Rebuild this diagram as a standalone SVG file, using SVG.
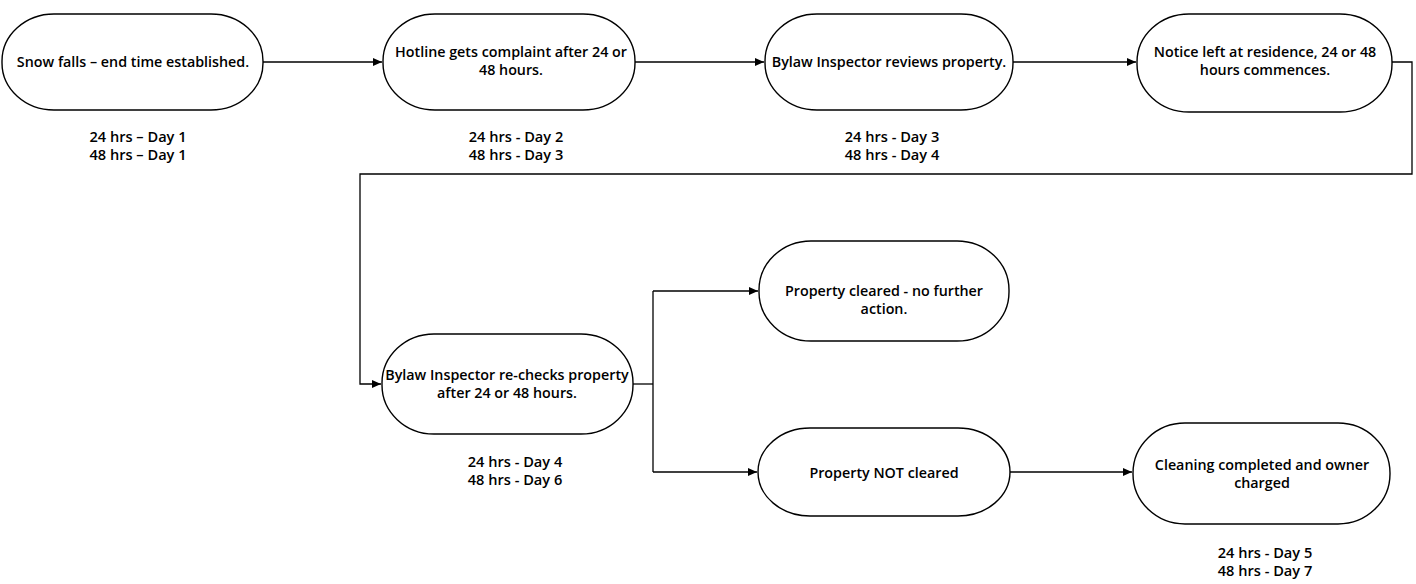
<svg xmlns="http://www.w3.org/2000/svg" width="1416" height="584" viewBox="0 0 1416 584">
<style>
.n{fill:#fff;stroke:#000;stroke-width:1.4}
.t{font-family:"Open Sans","Liberation Sans",sans-serif;font-size:14.3px;fill:#000;text-anchor:middle;font-weight:600}
.l{font-size:14.6px}
.c{fill:none;stroke:#000;stroke-width:1.3}
</style>
<defs>
<marker id="a" markerWidth="10" markerHeight="8" refX="9" refY="4" orient="auto" markerUnits="userSpaceOnUse">
<path d="M0,0 L9,4 L0,8 Z" fill="#000"/>
</marker>
</defs>
<rect width="1416" height="584" fill="#fff"/>
<g id="connectors">
<path class="c" d="M263,62 H382" marker-end="url(#a)"/>
<path class="c" d="M635,62 H764" marker-end="url(#a)"/>
<path class="c" d="M1013,62 H1136" marker-end="url(#a)"/>
<path class="c" d="M1392,62 H1412 V174 H360 V384 H381" marker-end="url(#a)"/>
<path class="c" d="M633,384 H653"/>
<path class="c" d="M653,291 V472"/>
<path class="c" d="M653,291 H758" marker-end="url(#a)"/>
<path class="c" d="M653,472 H757" marker-end="url(#a)"/>
<path class="c" d="M1010,472 H1132" marker-end="url(#a)"/>
</g>
<g id="node1">
<rect class="n" x="2" y="14" width="261" height="96" rx="52" ry="47"/>
<text class="t" x="133" y="67">Snow falls – end time established.</text>
<text class="t l" x="138" y="142">24 hrs – Day 1</text>
<text class="t l" x="138" y="160">48 hrs – Day 1</text>
</g>
<g id="node2">
<rect class="n" x="383" y="14" width="252" height="96" rx="52" ry="47"/>
<text class="t" x="511" y="57">Hotline gets complaint after 24 or</text>
<text class="t" x="511" y="75">48 hours.</text>
<text class="t l" x="516" y="142">24 hrs - Day 2</text>
<text class="t l" x="516" y="160">48 hrs - Day 3</text>
</g>
<g id="node3">
<rect class="n" x="765" y="14" width="248" height="96" rx="52" ry="47"/>
<text class="t" x="889" y="67">Bylaw Inspector reviews property.</text>
<text class="t l" x="892" y="142">24 hrs - Day 3</text>
<text class="t l" x="892" y="160">48 hrs - Day 4</text>
</g>
<g id="node4">
<rect class="n" x="1137" y="14" width="255" height="98" rx="52" ry="48"/>
<text class="t" x="1265" y="57">Notice left at residence, 24 or 48</text>
<text class="t" x="1265" y="75">hours commences.</text>
</g>
<g id="node5">
<rect class="n" x="382" y="334" width="251" height="100" rx="52" ry="49"/>
<text class="t" x="507" y="380">Bylaw Inspector re-checks property</text>
<text class="t" x="507" y="398">after 24 or 48 hours.</text>
<text class="t l" x="515" y="467">24 hrs - Day 4</text>
<text class="t l" x="515" y="485">48 hrs - Day 6</text>
</g>
<g id="node6">
<rect class="n" x="759" y="241" width="250" height="100" rx="52" ry="49"/>
<text class="t" x="884" y="296">Property cleared - no further</text>
<text class="t" x="884" y="314">action.</text>
</g>
<g id="node7">
<rect class="n" x="758" y="428" width="252" height="88" rx="52" ry="44"/>
<text class="t" x="884" y="478">Property NOT cleared</text>
</g>
<g id="node8">
<rect class="n" x="1133" y="423" width="257" height="101" rx="52" ry="50"/>
<text class="t" x="1262" y="470">Cleaning completed and owner</text>
<text class="t" x="1262" y="488">charged</text>
<text class="t l" x="1265" y="558">24 hrs - Day 5</text>
<text class="t l" x="1265" y="576">48 hrs - Day 7</text>
</g>
</svg>
